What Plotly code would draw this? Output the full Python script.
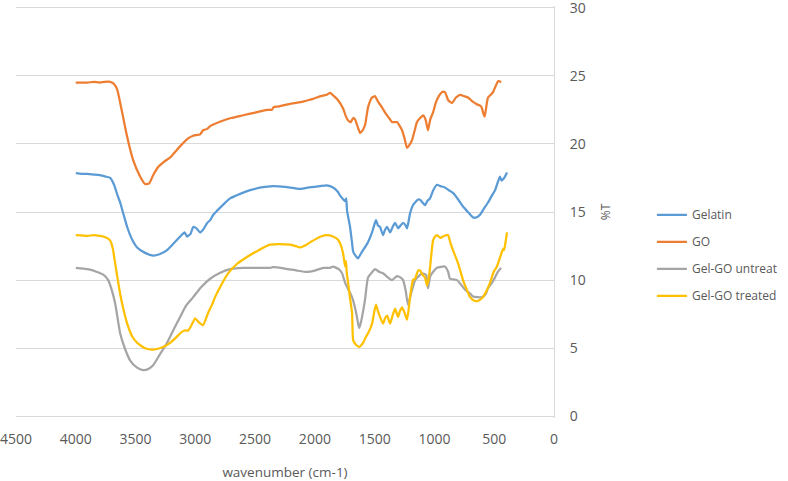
import plotly.graph_objects as go

# ---- data ----
go_x = [4000, 3900, 3850, 3800, 3760, 3712, 3680, 3654, 3612, 3570, 3520, 3462, 3420, 3386, 3353, 3311, 3260,
        3211, 3130, 3060, 3018, 2960, 2935, 2900, 2876, 2800, 2700, 2600, 2500, 2400, 2360, 2345, 2300, 2200,
        2100, 2000, 1950, 1900, 1873, 1840, 1806, 1764, 1740, 1720, 1700, 1680, 1664, 1640, 1622, 1600, 1580,
        1555, 1522, 1497, 1472, 1440, 1413, 1380, 1355, 1313, 1290, 1271, 1250, 1229, 1210, 1187, 1165, 1146,
        1120, 1095, 1075, 1054, 1035, 1012, 990, 970, 935, 912, 885, 853, 820, 786, 750, 719, 680, 644, 615,
        602, 590, 580, 565, 552, 530, 510, 490, 468, 455, 443]
go_y = [24.5, 24.5, 24.55, 24.5, 24.55, 24.55, 24.4, 24.0, 22.3, 20.5, 18.8, 17.6, 17.05, 17.1, 17.7, 18.3, 18.7,
        19.0, 19.8, 20.4, 20.6, 20.7, 21.0, 21.1, 21.3, 21.6, 21.9, 22.1, 22.3, 22.5, 22.5, 22.7, 22.75, 22.95,
        23.1, 23.35, 23.5, 23.6, 23.75, 23.5, 23.2, 22.6, 22.0, 21.7, 21.6, 21.9, 21.8, 21.2, 20.8, 21.0, 21.4,
        22.7, 23.4, 23.5, 23.1, 22.7, 22.3, 21.9, 21.6, 21.6, 21.3, 21.0, 20.4, 19.7, 19.9, 20.3, 21.0, 21.6,
        21.9, 22.1, 21.8, 21.0, 21.8, 22.3, 23.0, 23.4, 23.8, 23.8, 23.2, 23.0, 23.4, 23.6, 23.5, 23.4, 23.1,
        22.9, 22.8, 22.6, 22.2, 22.0, 22.8, 23.4, 23.6, 23.8, 24.2, 24.6, 24.6, 24.5]

gel_x = [4000, 3950, 3900, 3850, 3800, 3750, 3712, 3680, 3650, 3629, 3600, 3570, 3530, 3487, 3420, 3353, 3300,
         3236, 3180, 3127, 3090, 3069, 3040, 3018, 2990, 2960, 2935, 2900, 2876, 2850, 2818, 2760, 2709, 2620,
         2542, 2450, 2350, 2250, 2124, 2050, 1957, 1900, 1848, 1810, 1789, 1760, 1747, 1738, 1731, 1706, 1690,
         1680, 1660, 1639, 1618, 1597, 1575, 1555, 1522, 1505, 1489, 1472, 1455, 1430, 1413, 1396, 1371, 1350,
         1329, 1304, 1285, 1262, 1240, 1229, 1204, 1180, 1162, 1140, 1120, 1100, 1079, 1060, 1037, 1010, 979,
         950, 912, 880, 845, 800, 761, 720, 677, 650, 619, 590, 552, 520, 493, 470, 452, 438, 426, 410, 393]
gel_y = [17.85, 17.8, 17.8, 17.75, 17.7, 17.6, 17.5, 17.0, 16.2, 15.7, 14.8, 13.9, 13.0, 12.4, 12.0, 11.8, 11.9,
         12.2, 12.7, 13.2, 13.5, 13.2, 13.4, 13.9, 13.8, 13.5, 13.7, 14.2, 14.4, 14.8, 15.1, 15.6, 16.0, 16.35,
         16.6, 16.8, 16.9, 16.85, 16.7, 16.8, 16.9, 16.95, 16.8, 16.5, 16.2, 15.9, 15.8, 16.0, 15.1, 13.9, 12.8,
         12.1, 11.8, 11.6, 11.9, 12.2, 12.5, 12.8, 13.5, 14.0, 14.4, 14.0, 13.9, 13.3, 13.7, 13.9, 13.5, 13.9,
         14.2, 13.8, 14.0, 14.2, 14.0, 13.8, 14.9, 15.5, 15.7, 15.9, 15.9, 15.7, 15.5, 15.8, 16.0, 16.6, 17.0,
         16.9, 16.8, 16.6, 16.4, 15.9, 15.4, 15.0, 14.6, 14.6, 14.8, 15.2, 15.7, 16.2, 16.6, 17.2, 17.6, 17.3,
         17.4, 17.6, 17.9]

unt_x = [4000, 3900, 3822, 3770, 3729, 3700, 3671, 3650, 3629, 3590, 3545, 3490, 3436, 3400, 3353, 3300, 3236,
         3180, 3127, 3080, 3018, 2950, 2876, 2800, 2709, 2600, 2500, 2375, 2350, 2250, 2150, 2066, 2000, 1930,
         1873, 1848, 1800, 1773, 1747, 1720, 1689, 1660, 1640, 1630, 1615, 1595, 1580, 1567, 1555, 1520, 1497,
         1460, 1430, 1390, 1355, 1313, 1285, 1262, 1240, 1221, 1190, 1162, 1130, 1104, 1070, 1054, 1035, 1012,
         979, 912, 885, 870, 811, 744, 700, 677, 602, 570, 552, 520, 493, 470, 443]
unt_y = [10.9, 10.8, 10.6, 10.4, 10.0, 9.3, 8.3, 7.2, 6.1, 5.0, 4.1, 3.6, 3.4, 3.45, 3.75, 4.5, 5.4,
         6.4, 7.3, 8.1, 8.75, 9.5, 10.1, 10.5, 10.8, 10.9, 10.9, 10.9, 10.95, 10.85, 10.7, 10.6, 10.7, 10.9,
         10.9, 11.0, 10.8, 10.5, 9.8, 9.3, 8.75, 7.8, 6.9, 6.5, 6.9, 7.8, 8.6, 9.6, 10.2, 10.6, 10.8,
         10.6, 10.5, 10.2, 10.0, 10.3, 10.2, 10.0, 9.2, 8.2, 9.2, 10.0, 10.3, 10.5, 10.4, 9.4, 10.3, 10.6,
         10.9, 11.0, 10.6, 10.1, 10.0, 9.3, 9.0, 8.8, 8.75, 9.0, 9.4, 9.8, 10.2, 10.6, 10.9]

trt_x = [4000, 3900, 3850, 3800, 3771, 3740, 3712, 3690, 3671, 3650, 3629, 3600, 3570, 3530, 3487, 3420, 3353,
         3280, 3211, 3160, 3127, 3090, 3060, 3044, 3020, 3002, 2970, 2935, 2910, 2893, 2860, 2835, 2780, 2726,
         2650, 2568, 2470, 2375, 2300, 2208, 2160, 2124, 2070, 2016, 1950, 1899, 1848, 1810, 1789, 1765, 1747,
         1740, 1733, 1722, 1705, 1689, 1680, 1660, 1630, 1597, 1575, 1555, 1522, 1505, 1489, 1472, 1455, 1430,
         1413, 1396, 1371, 1350, 1329, 1304, 1290, 1271, 1250, 1229, 1204, 1180, 1162, 1137, 1120, 1100, 1079,
         1062, 1050, 1037, 1012, 995, 979, 950, 928, 900, 886, 865, 845, 803, 761, 730, 702, 670, 644, 620, 594,
         565, 535, 505, 477, 450, 435, 425, 418, 405, 393]
trt_y = [13.3, 13.25, 13.3, 13.25, 13.2, 13.1, 12.9, 12.3, 11.25, 10.1, 9.0, 7.8, 6.8, 5.9, 5.4, 5.0, 4.9,
         5.05, 5.4, 5.8, 6.1, 6.3, 6.3, 6.5, 6.9, 7.2, 6.9, 6.7, 7.2, 7.6, 8.2, 8.75, 9.7, 10.5,
         11.2, 11.7, 12.2, 12.6, 12.65, 12.6, 12.5, 12.4, 12.6, 12.9, 13.2, 13.3, 13.2, 13.0, 12.7, 12.0, 11.0,
         11.4, 10.5, 9.8, 8.6, 7.6, 5.6, 5.3, 5.1, 5.4, 5.8, 6.1, 6.8, 7.6, 8.2, 7.7, 7.3, 6.8,
         7.2, 7.4, 6.8, 7.4, 7.9, 7.3, 7.7, 8.0, 7.6, 7.1, 8.75, 10.0, 10.1, 10.7, 10.7, 10.4, 10.2,
         9.6, 10.0, 10.9, 12.9, 13.2, 13.3, 13.1, 13.2, 13.3, 13.3, 12.7, 12.2, 11.25, 10.0, 9.3, 8.75, 8.5, 8.45,
         8.55, 8.75, 9.2, 9.8, 10.6, 11.0, 11.7, 12.1, 12.3, 12.2, 12.8, 13.5]

series_names = ["Gelatin", "GO", "Gel-GO untreat", "Gel-GO treated"]
series_colors = ["#5B9BD5", "#ED7D31", "#A5A5A5", "#FFC000"]
x_ticks = [4500, 4000, 3500, 3000, 2500, 2000, 1500, 1000, 500, 0]
y_ticks = [0, 5, 10, 15, 20, 25, 30]

series = [(gel_x, gel_y), (go_x, go_y), (unt_x, unt_y), (trt_x, trt_y)]

fig = go.Figure()
for i, ((xs, ys), name, col) in enumerate(zip(series, series_names, series_colors)):
    fig.add_trace(go.Scatter(
        x=xs, y=ys, mode="lines", name=name, legendgroup=name,
        line=dict(color=col, width=2.25, shape="spline", smoothing=0.5),
    ))

# small padding so the 0 and 30 gridlines are drawn (plotly drops grid lines at the exact edges)
Y_PAD = 0.12

fig.update_layout(
    width=788, height=481,
    margin=dict(l=16, r=234, t=6.37, b=63.37, autoexpand=False),
    paper_bgcolor="white", plot_bgcolor="white",
    font=dict(family="Open Sans, Arial, sans-serif", color="#595959", size=13),
    showlegend=True,
    legend=dict(
        x=1.182, xanchor="left", y=0.395, yanchor="middle",
        font=dict(size=12, color="#595959"),
        tracegroupgap=8, bgcolor="rgba(0,0,0,0)",
    ),
    xaxis=dict(
        range=[4500, 0], tickvals=x_ticks, ticktext=[str(v) for v in x_ticks],
        showgrid=False, zeroline=False, showline=False, automargin=False,
        ticklabeloverflow="allow",
        ticks="outside", ticklen=8, tickcolor="rgba(0,0,0,0)",
        tickfont=dict(size=14, color="#595959"),
        title=dict(text="wavenumber (cm-1)", font=dict(size=13.5, color="#595959"), standoff=24),
    ),
    yaxis=dict(
        range=[-Y_PAD, 30 + Y_PAD], tickvals=y_ticks, side="right", automargin=False,
        ticklabeloverflow="allow",
        showgrid=True, gridcolor="#D9D9D9", gridwidth=1,
        zeroline=False, showline=True, linecolor="#D9D9D9", linewidth=1,
        ticks="outside", ticklen=12, tickcolor="rgba(0,0,0,0)",
        tickfont=dict(size=14, color="#595959"),
        title=dict(text="%T", font=dict(size=12, color="#595959"), standoff=16),
    ),
)

fig.write_html("out.html", config={"displayModeBar": False},
               post_script="document.body.style.margin='0';")
